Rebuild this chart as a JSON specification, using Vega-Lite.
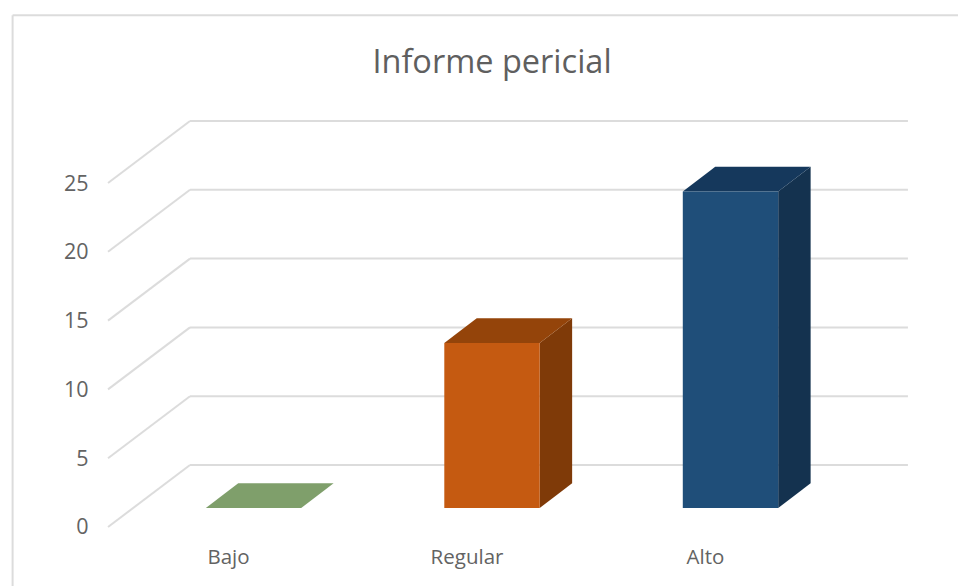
{
"$schema":"https://vega.github.io/schema/vega-lite/v6.json",
"width":958,"height":586,"padding":0,"autosize":{"type":"none"},
"background":"white",
"view":{"stroke":null},
"title":{"text":"Informe pericial","font":"Open Sans","fontSize":32.5,"fontWeight":"normal","color":"#5F5F5F","anchor":"middle","frame":"group","baseline":"alphabetic","offset":-105.5,"dx":13},
"datasets":{
"bars":[{"categoria":"Bajo","pos":1,"valor":0},{"categoria":"Regular","pos":2,"valor":12},{"categoria":"Alto","pos":3,"valor":23}],
"side":[
{"categoria":"Regular","u":2.2,"low":0,"high":12},{"categoria":"Regular","u":2.336,"low":1.795,"high":13.795},
{"categoria":"Alto","u":3.2,"low":0,"high":23},{"categoria":"Alto","u":3.336,"low":1.795,"high":24.795}],
"top":[
{"categoria":"Bajo","v":0,"left":0.8,"right":1.2},{"categoria":"Bajo","v":1.795,"left":0.936,"right":1.336},
{"categoria":"Regular","v":12,"left":1.8,"right":2.2},{"categoria":"Regular","v":13.795,"left":1.936,"right":2.336},
{"categoria":"Alto","v":23,"left":2.8,"right":3.2},{"categoria":"Alto","v":24.795,"left":2.936,"right":3.336}],
"grid":[
{"tick":0,"fx":0.39,"bx":0.7338,"wx":3.744,"by":4.506},
{"tick":5,"fx":0.39,"bx":0.7338,"wx":3.744,"by":9.506},
{"tick":10,"fx":0.39,"bx":0.7338,"wx":3.744,"by":14.506},
{"tick":15,"fx":0.39,"bx":0.7338,"wx":3.744,"by":19.506},
{"tick":20,"fx":0.39,"bx":0.7338,"wx":3.744,"by":24.506},
{"tick":25,"fx":0.39,"bx":0.7338,"wx":3.744,"by":29.506}]
},
"resolve":{"scale":{"color":"independent"}},
"encoding":{
"x":{"type":"quantitative","scale":{"domain":[-0.0629,3.9539],"padding":0},"axis":{"values":[1,2,3],"title":null,"grid":false,"domain":false,"ticks":false,"offset":-23,"labelPadding":0,"labelOffset":-25.5,"labelFlush":false,"labelOverlap":false,"labelFont":"Open Sans","labelFontSize":20.5,"labelColor":"#636363","labelBaseline":"alphabetic","labelExpr":"datum.value==1?'Bajo':datum.value==2?'Regular':'Alto'"}},
"y":{"type":"quantitative","scale":{"domain":[-4.288,38.3]},"axis":{"values":[0,5,10,15,20,25],"title":null,"grid":false,"domain":false,"ticks":false,"offset":-88,"labelPadding":0,"labelOffset":1,"labelFont":"Open Sans","labelFontSize":21.5,"labelColor":"#636363"}}
},
"layer":[
{"data":{"values":[{"a":-0.0101,"b":3.9539,"c":37.2}]},"mark":{"type":"rule","color":"#DCDCDC","strokeWidth":2},
 "encoding":{"x":{"field":"a"},"x2":{"field":"b"},"y":{"field":"c"}}},
{"data":{"values":[{"a":-0.0101,"c":37.2,"d":-4.288}]},"mark":{"type":"rule","color":"#DCDCDC","strokeWidth":2},
 "encoding":{"x":{"field":"a"},"y":{"field":"c"},"y2":{"field":"d"}}},
{"data":{"name":"grid"},"mark":{"type":"rule","color":"#DCDCDC","strokeWidth":2},
 "encoding":{"x":{"field":"fx"},"x2":{"field":"bx"},"y":{"field":"tick"},"y2":{"field":"by"}}},
{"data":{"name":"grid"},"mark":{"type":"rule","color":"#DCDCDC","strokeWidth":2},
 "encoding":{"x":{"field":"bx"},"x2":{"field":"wx"},"y":{"field":"by"}}},
{"data":{"name":"side"},"mark":{"type":"area","orient":"vertical","yOffset":-19,"y2Offset":-19},
 "encoding":{"x":{"field":"u"},"y":{"field":"high"},"y2":{"field":"low"},
 "color":{"field":"categoria","type":"nominal","scale":{"domain":["Regular","Alto"],"range":["#7F3A08","#14324F"]},"legend":null}}},
{"data":{"name":"top"},"mark":{"type":"area","orient":"horizontal","yOffset":-19,"y2Offset":-19},
 "encoding":{"y":{"field":"v"},"x":{"field":"left"},"x2":{"field":"right"},
 "color":{"field":"categoria","type":"nominal","scale":{"domain":["Bajo","Regular","Alto"],"range":["#7F9F6B","#94440A","#15385C"]},"legend":null}}},
{"data":{"name":"bars"},"mark":{"type":"bar","orient":"vertical","size":95.4,"yOffset":-19,"y2Offset":-19},
 "encoding":{"x":{"field":"pos"},"y":{"field":"valor","stack":null},"y2":{"datum":0},
 "color":{"field":"categoria","type":"nominal","scale":{"domain":["Bajo","Regular","Alto"],"range":["#7F9F6B","#C55A11","#1F4E79"]},"legend":null}}}
]
}
